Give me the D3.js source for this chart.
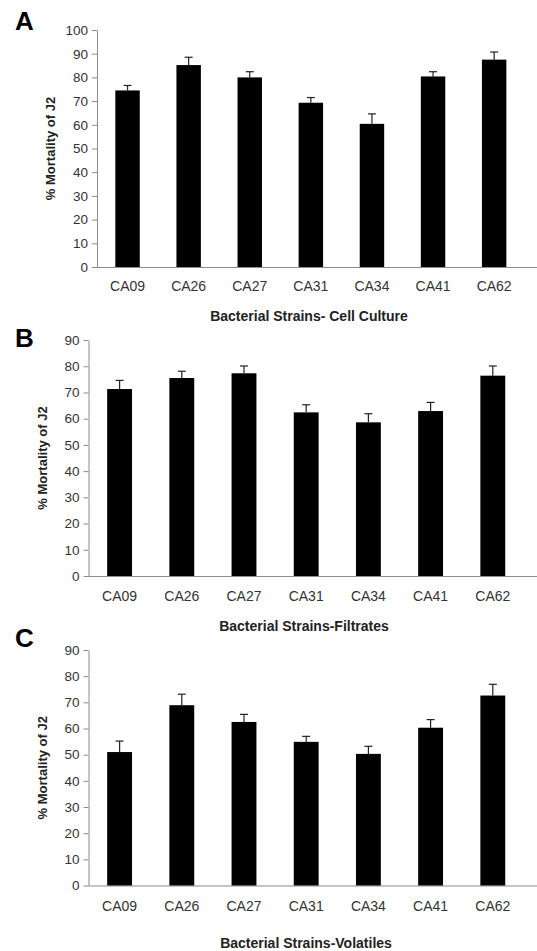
<!DOCTYPE html>
<html>
<head>
<meta charset="utf-8">
<script src="https://cdn.jsdelivr.net/npm/d3@7"></script>
<style>
  body { margin: 0; background: #fff; }
  svg { display: block; }
  .tick text { font-family: "Liberation Sans", Arial, sans-serif; font-size: 13.5px; fill: #333; }
</style>
</head>
<body>
<svg id="chart" width="537" height="951"></svg>
<script>

var strains = [ "CA09", "CA26", "CA27", "CA31", "CA34", "CA41", "CA62" ];

// mean % mortality and upper error bar end
var cellCulture = [ 74.5, 85.2, 80.0, 69.3, 60.4, 80.4, 87.5 ],
  cellCultureErr = [ 76.6, 88.5, 82.4, 71.5, 64.6, 82.4, 90.7 ];

var filtrates = [ 71.3, 75.5, 77.3, 62.4, 58.6, 62.9, 76.4 ],
  filtratesErr = [ 74.6, 78.1, 80.1, 65.3, 61.9, 66.2, 80.1 ];

var volatiles = [ 51.0, 68.9, 62.5, 54.9, 50.3, 60.3, 72.6 ],
  volatilesErr = [ 55.2, 73.1, 65.4, 57.0, 53.2, 63.4, 76.9 ];

var ticksA = [ 0, 10, 20, 30, 40, 50, 60, 70, 80, 90, 100 ],
  ticksBC = [ 0, 10, 20, 30, 40, 50, 60, 70, 80, 90 ];

var svg = d3.select( "#chart" );

var panels = [
  { letter: "A", values: cellCulture, errs: cellCultureErr, ticks: ticksA, yMax: 100,
    left: 97, top: 30, bottom: 267, step: 61.1, letterY: 30, titleY: 321, labelY: 50,
    catY: 291, title: "Bacterial Strains- Cell Culture", titleX: 309 },
  { letter: "B", values: filtrates, errs: filtratesErr, ticks: ticksBC, yMax: 90,
    left: 88.5, top: 340, bottom: 576, step: 62.2, letterY: 347, titleY: 631, labelY: 42,
    catY: 601, title: "Bacterial Strains-Filtrates", titleX: 304 },
  { letter: "C", values: volatiles, errs: volatilesErr, ticks: ticksBC, yMax: 90,
    left: 88.5, top: 650, bottom: 885.5, step: 62.2, letterY: 647, titleY: 948, labelY: 42,
    catY: 911, title: "Bacterial Strains-Volatiles", titleX: 306 }
];

panels.forEach( p => drawPanel( p ) );

function drawPanel( p ) {

  var x = d3.scaleBand()
    .domain( strains )
    .range( [ p.left, p.left + p.step * strains.length ] )
    .paddingInner( 0.6 )
    .paddingOuter( 0.3 );

  var y = d3.scaleLinear()
    .domain( [ 0, p.yMax ] )
    .range( [ p.bottom, p.top ] );

  var g = svg.append( "g" );

  // y axis
  var yAxis = g.append( "g" )
    .attr( "transform", "translate(" + p.left + ",0)" )
    .call( d3.axisLeft( y ).tickValues( p.ticks ).tickSize( 5 ).tickPadding( 4 ).tickSizeOuter( 0 ) );

  yAxis.selectAll( "line, path" ).attr( "stroke", "#8c8c8c" );

  // x axis line, runs to the edge
  g.append( "line" )
    .attr( "x1", p.left )
    .attr( "x2", 537 )
    .attr( "y1", y( 0 ) + 0.5 )
    .attr( "y2", y( 0 ) + 0.5 )
    .attr( "stroke", "#8c8c8c" );

  // error bars (upper only)
  var errs = g.selectAll( "g.err" )
    .data( strains )
    .enter().append( "g" )
      .attr( "class", "err" );

  errs.append( "line" )
    .attr( "x1", d => x( d ) + x.bandwidth() / 2 )
    .attr( "x2", d => x( d ) + x.bandwidth() / 2 )
    .attr( "y1", ( d, i ) => y( p.values[ i ] ) )
    .attr( "y2", ( d, i ) => y( p.errs[ i ] ) )
    .attr( "stroke", "#222" )
    .attr( "stroke-width", 1.2 );

  errs.append( "line" )
    .attr( "x1", d => x( d ) + x.bandwidth() / 2 - 4 )
    .attr( "x2", d => x( d ) + x.bandwidth() / 2 + 4 )
    .attr( "y1", ( d, i ) => y( p.errs[ i ] ) )
    .attr( "y2", ( d, i ) => y( p.errs[ i ] ) )
    .attr( "stroke", "#222" )
    .attr( "stroke-width", 1.2 );

  // bars
  g.selectAll( "rect.bar" )
    .data( strains )
    .enter().append( "rect" )
      .attr( "class", "bar" )
      .attr( "x", d => x( d ) )
      .attr( "width", x.bandwidth() )
      .attr( "y", ( d, i ) => y( p.values[ i ] ) )
      .attr( "height", ( d, i ) => y( 0 ) - y( p.values[ i ] ) )
      .attr( "fill", "#000" );

  // category labels
  g.selectAll( "text.cat" )
    .data( strains )
    .enter().append( "text" )
      .attr( "class", "cat" )
      .attr( "x", d => x( d ) + x.bandwidth() / 2 )
      .attr( "y", p.catY )
      .attr( "text-anchor", "middle" )
      .style( "font-family", "'Liberation Sans', Arial, sans-serif" )
      .style( "font-size", "14px" )
      .style( "fill", "#333" )
      .text( d => d );

  // y title
  g.append( "text" )
    .attr( "transform", "translate(" + p.labelY + "," + ( ( p.top + p.bottom ) / 2 ) + ") rotate(-90)" )
    .attr( "text-anchor", "middle" )
    .attr( "dy", "0.35em" )
    .style( "font-family", "'Liberation Sans', Arial, sans-serif" )
    .style( "font-weight", "bold" )
    .style( "font-size", "13px" )
    .style( "fill", "#222" )
    .text( "% Mortality of J2" );

  // x title
  g.append( "text" )
    .attr( "x", p.titleX )
    .attr( "y", p.titleY )
    .attr( "text-anchor", "middle" )
    .style( "font-family", "'Liberation Sans', Arial, sans-serif" )
    .style( "font-weight", "bold" )
    .style( "font-size", "14px" )
    .style( "fill", "#222" )
    .text( p.title );

  // panel letter
  g.append( "text" )
    .attr( "x", 15 )
    .attr( "y", p.letterY )
    .style( "font-family", "'Liberation Sans', Arial, sans-serif" )
    .style( "font-weight", "bold" )
    .style( "font-size", "26px" )
    .style( "fill", "#000" )
    .text( p.letter );

}

</script>
</body>
</html>
